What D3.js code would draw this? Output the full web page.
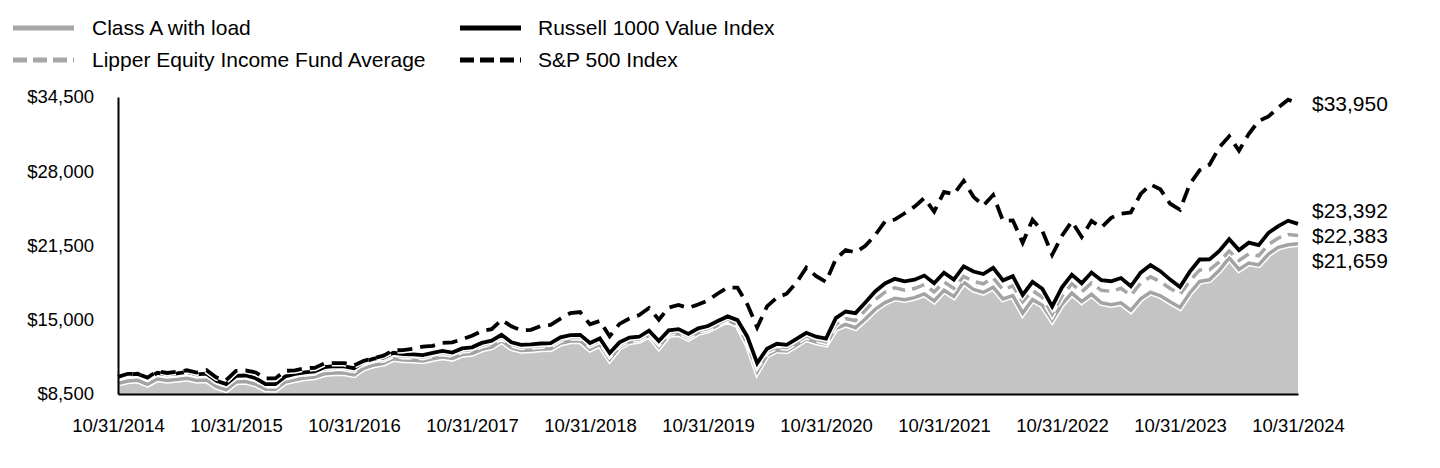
<!DOCTYPE html>
<html><head><meta charset="utf-8">
<script src="https://cdn.jsdelivr.net/npm/d3@7"></script>
<style>
html,body{margin:0;padding:0;background:#fff;}
svg{display:block;font-family:Arial,"Liberation Sans",sans-serif;}
</style>
</head><body>
<svg id="chart" width="1440" height="468"></svg>
<script>
// ---- data (month-end values, 10/31/2014 .. 10/31/2024) ----
const xTickLabels = ["10/31/2014","10/31/2015","10/31/2016","10/31/2017","10/31/2018","10/31/2019","10/31/2020","10/31/2021","10/31/2022","10/31/2023","10/31/2024"];
const yTickValues = [8500,15000,21500,28000,34500];

const classA = [9425,9634,9697,
9345,9807,9677,9764,9876,9683,9730,9143,8871,9546,9585,9355,
8912,8904,9549,9750,9889,9976,10268,10348,10328,10171,10753,11024,
11181,11584,11471,11450,11392,11583,11742,11602,11951,12043,12414,12609,
13166,12538,12318,12354,12429,12456,12945,13129,13158,12426,12832,11541,
12603,13056,13174,13645,12608,13677,13783,13351,13865,14087,14532,14940,
14547,12909,10479,11906,12340,12269,12786,13333,13046,12875,14232,14588,
14303,15062,15907,16504,16871,16745,16935,17263,16651,17584,17039,18298,
17646,17388,17845,16825,17120,15578,16758,16265,14974,16371,17337,16590,
17223,16487,16313,16487,15814,16827,17413,17097,16568,16074,17347,18350,
18498,19335,20420,19408,19964,19806,20758,21345,21560,21659];

const lipper = [10000,10185,10251,
9819,10304,10168,10258,10377,10174,10224,9607,9321,10030,10070,9830,
9277,9269,9941,10149,10295,10385,10689,10772,10751,10588,11194,11476,
11508,11923,11806,11785,11725,11921,12086,11941,12301,12395,12777,12977,
13481,12838,12613,12649,12726,12754,13254,13443,13473,12776,13166,11904,
12825,13231,13309,13827,12936,13860,13967,13558,14036,14231,14666,15063,
14667,13247,10983,12218,12636,12551,13053,13583,13249,13075,14610,15091,
14927,15821,16746,17413,17800,17590,17731,18075,17434,18310,17743,18790,
18357,18148,18666,17619,17966,16574,17546,16974,15492,17084,18151,17427,
18218,17577,17488,17755,17123,18204,18758,18329,17735,17235,18403,19364,
19370,20070,21016,20189,20768,20602,21594,22157,22470,22383];

const russell = [10000,10205,10272,
9868,10356,10219,10310,10429,10225,10275,9655,9368,10080,10121,9879,
9371,9363,10041,10252,10399,10490,10850,10940,10920,10760,11307,11592,
11683,12105,11986,11964,11904,12103,12270,12123,12488,12584,12972,13175,
13686,13033,12805,12842,12920,12948,13456,13648,13678,12971,13367,12085,
13020,13432,13512,14038,13133,14071,14180,13764,14250,14448,14889,15292,
14966,13517,11207,12467,12894,12807,13319,13860,13519,13342,15140,15720,
15581,16515,17480,18176,18580,18361,18508,18867,18198,19113,18521,19675,
19222,19003,19546,18449,18813,17175,18315,17718,16171,17833,18947,18191,
19137,18463,18370,18650,17930,19122,19787,19253,18512,17860,19210,20276,
20283,21016,22052,21096,21747,21528,22612,23201,23672,23392];

const sp500 = [10000,10269,10243,
9936,10507,10341,10440,10575,10370,10588,9949,9704,10523,10555,10388,
9873,9860,10529,10570,10760,10788,11186,11202,11204,11000,11407,11633,
11854,12325,12340,12467,12643,12721,12983,13023,13291,13601,14018,14174,
14986,14433,14067,14120,14461,14550,15091,15583,15672,14600,14898,13553,
14639,15109,15402,16026,15008,16066,16297,16040,16340,16694,17300,17823,
17816,16350,14331,16168,16938,17275,18249,19561,18818,18318,20324,21104,
20891,21468,22408,23605,23770,24324,24903,25660,24467,26182,26001,27166,
25762,24992,25919,23659,23702,21747,23752,22783,20685,22361,23611,22251,
23648,23071,23918,24291,24395,26008,26843,26416,25156,24628,26876,28097,
28569,30095,31064,29796,31274,32397,32792,33589,34260,33950];

const seriesNames = ["Class A with load","Lipper Equity Income Fund Average","Russell 1000 Value Index","S&P 500 Index"];

// ---- drawing ----
const svg = d3.select("#chart");
const L = 118, R = 1298, T = 97, B = 394;
const n = classA.length;
const x = d3.scaleLinear().domain([0, n - 1]).range([L, R]);
const y = d3.scaleLinear().domain([8500, 34500]).range([B, T]);
const fmt = v => "$" + d3.format(",")(v);

const styles = [
  {data: classA, color: "#a3a3a3", width: 3.5, dash: null},
  {data: lipper, color: "#a6a6a6", width: 3.5, dash: "13,7"},
  {data: russell, color: "#000", width: 3.8, dash: null},
  {data: sp500, color: "#000", width: 3.8, dash: "15,8"}
];

// area for Class A
const area = d3.area().x((d, i) => x(i)).y0(y(8500)).y1(d => y(d));
svg.append("path").datum(classA).attr("d", area).attr("fill", "#c4c4c4");

const line = d3.line().x((d, i) => x(i)).y(d => y(d));
styles.forEach(s => {
  svg.append("path").datum(s.data).attr("d", line)
    .attr("fill", "none").attr("stroke", "#fff").attr("stroke-width", s.width + 3)
    .attr("stroke-dasharray", s.dash);
  svg.append("path").datum(s.data).attr("d", line)
    .attr("fill", "none").attr("stroke", s.color).attr("stroke-width", s.width)
    .attr("stroke-dasharray", s.dash);
});

// axes
const yAxis = d3.axisLeft(y).tickValues(yTickValues).tickSize(0).tickPadding(24).tickFormat(fmt);
const gy = svg.append("g").attr("transform", `translate(${L},0)`).call(yAxis);
gy.select(".domain").attr("stroke", "#000").attr("stroke-width", 2);
gy.selectAll("text").attr("font-size", 18.5).attr("fill", "#000").attr("font-family", "Arial, 'Liberation Sans', sans-serif");

const xAxis = d3.axisBottom(x).tickValues(xTickLabels.map((d, i) => i * 12)).tickSize(0).tickPadding(25)
  .tickFormat(v => xTickLabels[v / 12]);
const gx = svg.append("g").attr("transform", `translate(0,${B})`).call(xAxis);
gx.select(".domain").attr("stroke", "#000").attr("stroke-width", 2);
gx.selectAll("text").attr("font-size", 18.5).attr("fill", "#000").attr("font-family", "Arial, 'Liberation Sans', sans-serif");

// end labels
const ends = [sp500, russell, lipper, classA].map(a => ({v: a[n - 1], yy: y(a[n - 1])}));
const grp = ends.slice(1);
const mean = d3.mean(grp, d => d.yy);
grp.forEach((d, i) => d.ly = mean + (i - 1) * 25 + 1.5);
ends[0].ly = ends[0].yy + 0.5;
svg.append("g").selectAll("text").data(ends).join("text")
  .attr("x", R + 14).attr("y", d => d.ly).attr("dy", "0.35em")
  .attr("font-size", 21).attr("fill", "#000")
  .text(d => fmt(d.v));

// legend
const legendItems = [
  {name: seriesNames[0], color: "#a6a6a6", dash: null, sx: 13, tx: 92, ly: 28},
  {name: seriesNames[1], color: "#a6a6a6", dash: "14,6", sx: 13, tx: 92, ly: 60},
  {name: seriesNames[2], color: "#000", dash: null, sx: 460, tx: 538, ly: 28},
  {name: seriesNames[3], color: "#000", dash: "14,6", sx: 460, tx: 538, ly: 60}
];
const lg = svg.append("g");
legendItems.forEach(it => {
  lg.append("line").attr("x1", it.sx).attr("x2", it.sx + 61).attr("y1", it.ly).attr("y2", it.ly)
    .attr("stroke", it.color).attr("stroke-width", 5).attr("stroke-dasharray", it.dash);
  lg.append("text").attr("x", it.tx).attr("y", it.ly).attr("dy", "0.35em")
    .attr("font-size", 21).attr("fill", "#000").text(it.name);
});
</script>
</body></html>
